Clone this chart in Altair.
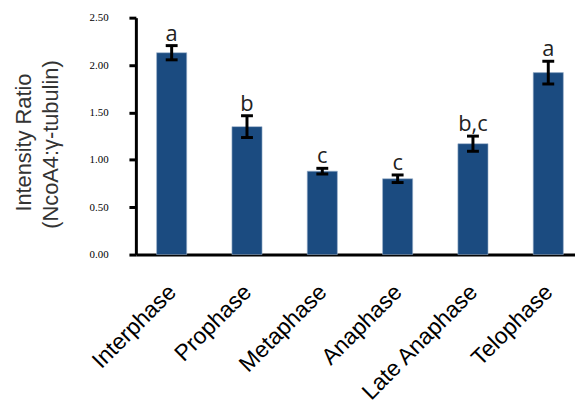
import altair as alt
import pandas as pd

phases = ["Interphase", "Prophase", "Metaphase", "Anaphase", "Late Anaphase", "Telophase"]
ratio = [2.13, 1.35, 0.88, 0.80, 1.17, 1.92]
err = [0.075, 0.115, 0.03, 0.04, 0.08, 0.12]
letters = ["a", "b", "c", "c", "b,c", "a"]
ytitle = ["Intensity Ratio", "(NcoA4:γ-tubulin)"]
yticks = [0, 0.5, 1.0, 1.5, 2.0, 2.5]

df = pd.DataFrame({"phase": phases, "ratio": ratio, "err": err, "letter": letters})
df["lo"] = df["ratio"] - df["err"]
df["hi"] = df["ratio"] + df["err"]

xenc = alt.X(
    "phase:N", sort=phases, title=None,
    scale=alt.Scale(paddingInner=0.6, paddingOuter=0.215, align=0.64),
    axis=alt.Axis(labelAngle=-45, labelFont="Liberation Sans", labelFontSize=23,
                  labelColor="black", ticks=False, domainColor="black", domainWidth=3,
                  labelPadding=26, labelOffset=-7, labelAlign="right", labelBaseline="top"),
)
xs = alt.X("phase:N", sort=phases)
yscale = alt.Scale(domain=[0, 2.5], nice=False, zero=True)

base = alt.Chart(df)

bars = base.mark_bar(color="#1b4b80", stroke="#9fb3cc", strokeWidth=0.6).encode(
    x=xenc,
    y=alt.Y("ratio:Q", scale=yscale, title=None,
            axis=alt.Axis(values=yticks, format=".2f",
                          labelFont="Liberation Serif", labelFontSize=11, labelColor="black",
                          labelPadding=21, tickSize=7, tickWidth=3, tickColor="black",
                          domainColor="black", domainWidth=3, grid=False)),
)

rules = base.mark_rule(color="black", strokeWidth=3).encode(
    x=xs, y=alt.Y("lo:Q", scale=yscale), y2="hi:Q")
tick_lo = base.mark_tick(color="black", thickness=3, size=12, opacity=1).encode(
    x=xs, y=alt.Y("lo:Q", scale=yscale))
tick_hi = base.mark_tick(color="black", thickness=3, size=12, opacity=1).encode(
    x=xs, y=alt.Y("hi:Q", scale=yscale))

labels = base.mark_text(font="Open Sans", fontSize=22, color="#222222",
                        baseline="alphabetic", dy=-5).encode(
    x=xs,
    y=alt.Y("hi:Q", scale=yscale),
    text="letter:N",
)

tdf = pd.DataFrame({"t": [ytitle[0]]})
tdf2 = pd.DataFrame({"t": [ytitle[1]]})
title1 = alt.Chart(tdf).mark_text(font="Liberation Sans", fontSize=22, color="#333333",
                                  angle=270, baseline="alphabetic", align="center").encode(
    x=alt.value(-106), y=alt.value(126), text="t:N")
title2 = alt.Chart(tdf2).mark_text(font="Liberation Sans", fontSize=22, color="#333333",
                                   angle=270, baseline="alphabetic", align="center").encode(
    x=alt.value(-79), y=alt.value(128), text="t:N")

chart = alt.layer(bars, rules, tick_lo, tick_hi, labels, title1, title2).properties(
    width=443, height=239,
    autosize=alt.AutoSizeParams(type="none"),
    padding={"left": 129, "top": 8, "right": 0, "bottom": 148},
).configure_view(stroke=None)

chart.save("out.html", embed_options={"renderer": "svg", "actions": False})
